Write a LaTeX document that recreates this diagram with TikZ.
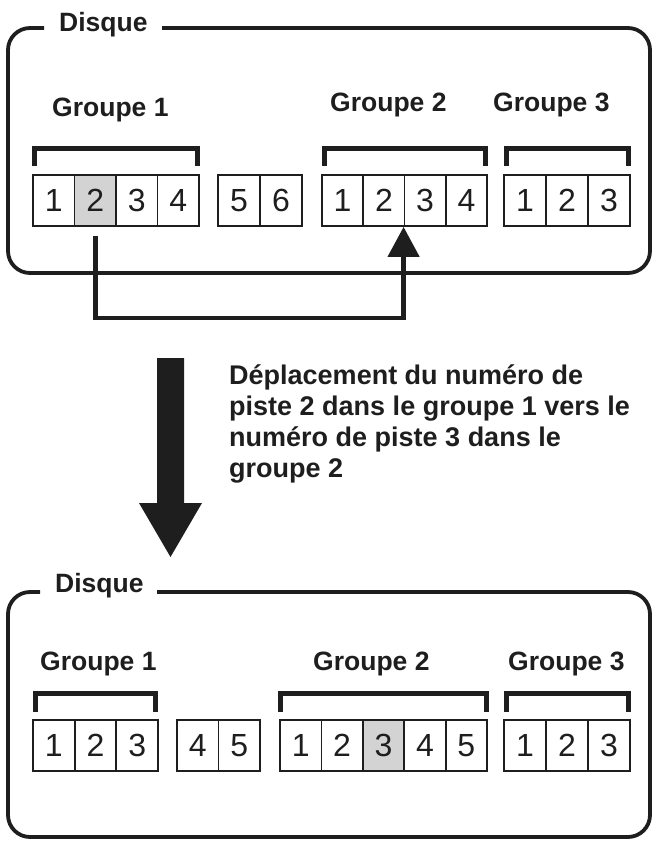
\documentclass[tikz,border=0pt]{standalone}
\usepackage{fontspec}
\setmainfont{Liberation Sans}
\usetikzlibrary{arrows.meta}
\definecolor{ink}{HTML}{1E1E1E}
\definecolor{shade}{HTML}{D3D3D3}
\begin{document}
\begin{tikzpicture}[x=1pt,y=-1pt,
  cell/.style={draw=ink, line width=1.8pt, minimum height=51pt, inner sep=0pt,
    font=\fontsize{32}{32}\selectfont, text=ink},
  hl/.style={fill=shade},
  lbl/.style={font=\bfseries\fontsize{26.5}{30}\selectfont, text=ink, inner sep=0pt, anchor=base west},
  desc/.style={font=\bfseries\fontsize{27}{30.7}\selectfont, text=ink, inner sep=0pt, anchor=base west, align=left},
  frame/.style={draw=ink, line width=3.8pt, rounded corners=22pt},
  brace/.style={draw=ink, line width=5pt},
  conn/.style={draw=ink, line width=4.5pt, -{Triangle[width=31pt,length=30pt]}}]
\useasboundingbox (0,0) rectangle (656,842);

% ---------- top disk ----------
\draw[frame] (162,28) -- (650,28) -- (650,273) -- (8,273) -- (8,28) -- (44,28);
\node[lbl] (disk1) at (59,32) {Disque};
\node[lbl] (tg1) at (52,117) {Groupe 1};
\node[lbl] (tg2) at (330,112) {Groupe 2};
\node[lbl] (tg3) at (493,112) {Groupe 3};

\draw[brace] (34.5,166) -- (34.5,148.5) -- (197.5,148.5) -- (197.5,166);
\draw[brace] (324.5,166) -- (324.5,148.5) -- (485.5,148.5) -- (485.5,166);
\draw[brace] (506.5,166) -- (506.5,148.5) -- (628.5,148.5) -- (628.5,166);

\begin{scope}[every node/.append style={cell, minimum width=41.5pt}]
\node (t1a) at (53.75,200.5) {1};
\node[hl] (t1b) at (95.25,200.5) {2};
\node (t1c) at (136.75,200.5) {3};
\node (t1d) at (178.25,200.5) {4};
\end{scope}
\begin{scope}[every node/.append style={cell, minimum width=42pt}]
\node (t5) at (239,200.5) {5};
\node (t6) at (281,200.5) {6};
\end{scope}
\begin{scope}[every node/.append style={cell, minimum width=41.25pt}]
\node (t2a) at (342.6,200.5) {1};
\node (t2b) at (383.9,200.5) {2};
\node (t2c) at (425.1,200.5) {3};
\node (t2d) at (466.4,200.5) {4};
\end{scope}
\begin{scope}[every node/.append style={cell, minimum width=42pt}]
\node (t3a) at (525,200.5) {1};
\node (t3b) at (567,200.5) {2};
\node (t3c) at (609,200.5) {3};
\end{scope}

\coordinate (bend) at (0,318);
\draw[conn] ([yshift=-9pt]t1b.south) -- (t1b.south |- bend) -| (t2c.south west);

% ---------- big arrow + text ----------
\fill[ink] (157,358) -- (184,358) -- (184,503) -- (202,503) -- (170.5,557)
  -- (139,503) -- (157,503) -- cycle;
\node[desc] (expl) at (229,477) {Déplacement du numéro de\\piste 2 dans le groupe 1 vers le\\numéro de piste 3 dans le\\groupe 2};

% ---------- bottom disk ----------
\draw[frame] (157,592) -- (650,592) -- (650,837) -- (8,837) -- (8,592) -- (40,592);
\node[lbl] (disk2) at (55,592) {Disque};
\node[lbl] (bg1) at (40,670) {Groupe 1};
\node[lbl] (bg2) at (313,670) {Groupe 2};
\node[lbl] (bg3) at (508,670) {Groupe 3};

\draw[brace] (35.5,712) -- (35.5,693.5) -- (155.5,693.5) -- (155.5,712);
\draw[brace] (280.5,712) -- (280.5,693.5) -- (486.5,693.5) -- (486.5,712);
\draw[brace] (506.5,712) -- (506.5,693.5) -- (628.5,693.5) -- (628.5,712);

\begin{scope}[every node/.append style={cell, minimum width=41.67pt}]
\node (b1a) at (53.8,745.5) {1};
\node (b1b) at (95.5,745.5) {2};
\node (b1c) at (137.2,745.5) {3};
\end{scope}
\begin{scope}[every node/.append style={cell, minimum width=41.5pt}]
\node (b4) at (197.75,745.5) {4};
\node (b5) at (239.25,745.5) {5};
\end{scope}
\begin{scope}[every node/.append style={cell, minimum width=41.4pt}]
\node (b2a) at (300.7,745.5) {1};
\node (b2b) at (342.1,745.5) {2};
\node[hl] (b2c) at (383.5,745.5) {3};
\node (b2d) at (424.9,745.5) {4};
\node (b2e) at (466.3,745.5) {5};
\end{scope}
\begin{scope}[every node/.append style={cell, minimum width=42pt}]
\node (b3a) at (525,745.5) {1};
\node (b3b) at (567,745.5) {2};
\node (b3c) at (609,745.5) {3};
\end{scope}
\end{tikzpicture}
\end{document}
